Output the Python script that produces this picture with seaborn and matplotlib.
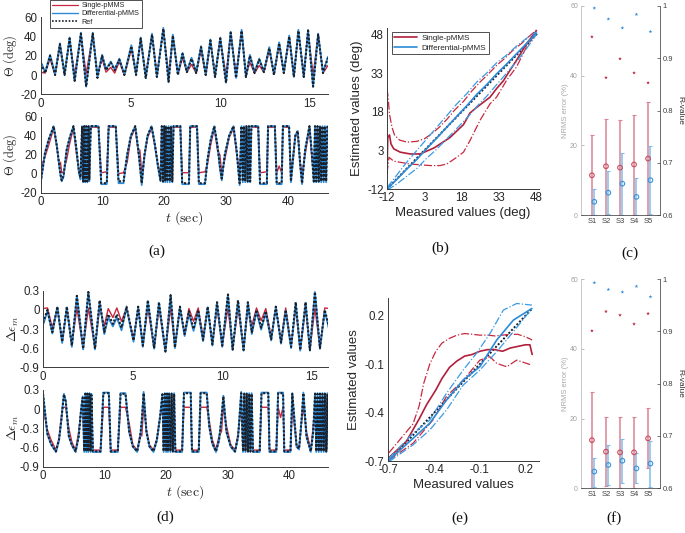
import numpy as np
import matplotlib
matplotlib.use('Agg')
import matplotlib.pyplot as plt
import seaborn as sns
from matplotlib.lines import Line2D

sns.set_theme(style='white')
plt.rcParams['font.family'] = ['Liberation Sans', 'DejaVu Sans']
plt.rcParams['mathtext.fontset'] = 'cm'
plt.rcParams['axes.unicode_minus'] = False

# ---------------- data: panel (a)/(d) upper (0-16 s) ----------------
t_top = [0.00, 0.25, 0.52, 0.80, 1.07, 1.33, 1.61, 1.89, 2.24, 2.53, 2.90, 3.16, 3.42, 3.64, 3.90,
         4.12, 4.38, 4.66, 5.05, 5.31, 5.57, 5.85, 6.20, 6.47, 6.83, 7.12, 7.36, 7.64, 7.90, 8.14,
         8.40, 8.66, 8.93, 9.19, 9.45, 9.71, 10.00, 10.32, 10.58, 10.88, 11.19, 11.43, 11.65, 11.91,
         12.17, 12.43, 12.73, 12.99, 13.28, 13.54, 13.84, 14.10, 14.35, 14.65, 14.89, 15.17, 15.45,
         15.72, 16.00]
theta_ref_top = [12, 2, 20, 0, 32, 0, 38, -6, 43, -12, 43, -3, 20, 5, 13, 5, 16, 0, 30, 0, 38, -3,
                 42, -2, 48, -7, 41, 0, 22, 3, 17, 2, 29, 0, 36, -2, 38, -8, 44, -3, 46, -2, 20, 2,
                 16, 3, 28, 0, 33, 2, 40, -2, 46, -2, 46, -12, 42, 2, 18]
theta_diff_top = [14, 3, 21, 1, 33, 1, 39, -6, 44, -12, 44, -2, 21, 6, 14, 6, 17, 1, 31, 1, 39, -3,
                  43, -2, 49, -7, 42, 1, 23, 4, 18, 3, 30, 1, 37, -2, 39, -8, 45, -3, 47, -2, 21, 3,
                  17, 4, 29, 1, 34, 3, 41, -2, 47, -2, 47, -12, 43, 3, 19]
theta_single_top = [3, 2, 17, 0, 30, 1, 37, 0, 42, 1, 42, 0, 17, 3, 8, 2, 14, 0, 27, 1, 37, 0, 42, 0,
                    47, 1, 40, 1, 18, 3, 11, 2, 26, 0, 34, 1, 37, 0, 43, 1, 45, 0, 13, 2, 10, 3, 26,
                    1, 31, 2, 39, 0, 45, 1, 45, 0, 41, 2, 10]
eps_ref_top = [-0.20, 0.00, -0.35, 0.05, -0.50, 0.05, -0.56, 0.22, -0.61, 0.28, -0.61, 0.15, -0.35,
               -0.07, -0.22, -0.07, -0.28, 0.05, -0.48, 0.05, -0.56, 0.15, -0.60, 0.12, -0.65, 0.23,
               -0.59, 0.05, -0.38, -0.02, -0.30, 0.00, -0.47, 0.05, -0.54, 0.12, -0.56, 0.24, -0.62,
               0.15, -0.63, 0.12, -0.35, 0.00, -0.28, -0.02, -0.46, 0.05, -0.51, 0.00, -0.58, 0.12,
               -0.63, 0.12, -0.63, 0.28, -0.60, 0.00, -0.32]
eps_diff_top = [-0.24, -0.02, -0.37, 0.04, -0.52, 0.04, -0.58, 0.22, -0.62, 0.28, -0.62, 0.13, -0.38,
                -0.12, -0.26, -0.12, -0.32, 0.03, -0.50, 0.04, -0.58, 0.14, -0.61, 0.11, -0.66, 0.23,
                -0.60, 0.04, -0.41, -0.06, -0.33, -0.03, -0.49, 0.04, -0.56, 0.11, -0.58, 0.24, -0.63,
                0.14, -0.64, 0.11, -0.38, -0.03, -0.31, -0.05, -0.48, 0.04, -0.53, -0.02, -0.60, 0.11,
                -0.64, 0.11, -0.64, 0.28, -0.61, -0.02, -0.35]
eps_single_top = [0.02, 0.03, -0.28, 0.03, -0.48, 0.03, -0.55, 0.03, -0.60, 0.03, -0.60, 0.03, -0.25,
                  0.02, -0.12, 0.03, -0.18, 0.03, -0.45, 0.03, -0.55, 0.03, -0.60, 0.03, -0.64, 0.03,
                  -0.58, 0.03, -0.38, 0.02, -0.18, 0.03, -0.43, 0.03, -0.52, 0.03, -0.55, 0.03, -0.61,
                  0.03, -0.62, 0.03, -0.25, 0.03, -0.17, 0.02, -0.43, 0.03, -0.49, 0.03, -0.57, 0.03,
                  -0.62, 0.03, -0.62, 0.03, -0.59, 0.03, 0.02]

# ---------------- data: panel (a)/(d) lower (0-46 s) ----------------
t_bot = [0.0, 0.7, 1.3, 2.1, 2.6, 3.0, 3.2, 3.4,
         3.7, 4.2, 4.7, 5.3, 5.8, 6.2, 6.45,
         6.7, 6.87, 7.04, 7.2, 7.37, 7.55, 7.74, 7.87,
         8.1, 9.35, 9.8, 10.7, 11.0, 12.15, 12.6, 13.4,
         14.0, 14.6, 15.3, 15.8, 16.05, 16.35,
         16.8, 17.3, 17.95, 18.5, 19.0, 19.4,
         19.6, 19.8, 20.0, 20.15, 20.3, 20.5, 20.7, 20.9, 21.1, 21.3,
         21.5, 22.6, 22.9, 24.0, 24.2, 25.3, 25.6, 26.6,
         27.0, 27.5, 28.1, 28.6, 29.0, 29.3,
         29.8, 30.5, 31.2, 31.7, 32.2,
         32.5, 32.7, 32.9, 33.1, 33.3, 33.5, 33.7, 33.9,
         34.1, 35.2, 35.5, 36.6, 36.8, 37.9, 38.2, 38.6, 39.0, 39.2, 40.2, 40.5,
         41.2, 41.6, 42.0, 42.3, 42.8, 43.5, 43.9, 44.2,
         44.4, 44.6, 44.8, 45.0, 45.2, 45.4, 45.6, 45.8, 46.0, 46.2, 46.4]
theta_ref_bot = [-9, 22, 36, 50, 30, 9, 0, -7,
                 -2, 25, 38, 50, 25, 2, -4,
                 50, -8, 50, -8, 50, -8, 50, -6,
                 50, 50, -10, -10, 50, 50, -8, -8,
                 20, 40, 50, 25, 10, -10,
                 20, 40, 50, 30, 8, -7,
                 50, -8, 50, -8, 50, -8, 50, -8, 50, -8,
                 50, 50, -10, -10, 50, 50, -10, -10,
                 15, 35, 50, 30, 8, -5,
                 20, 40, 50, 25, -10,
                 50, -8, 50, -8, 50, -8, 50, -8,
                 50, 50, -10, -10, 50, 50, -10, -10, -10, 50, 50, -8,
                 40, 45, 10, -10, 25, 50, 20, -8,
                 50, -8, 50, -8, 50, -8, 50, -8, 50, -8, 50]
theta_diff_bot = [-10, 22, 36, 50, 30, 8, -2, -8,
                  -3, 25, 38, 50, 25, 0, -6,
                  50, -9, 50, -9, 50, -9, 50, -8,
                  50, 50, -11, -11, 50, 50, -10, -10,
                  20, 40, 50, 25, 8, -12,
                  20, 40, 50, 30, 6, -8,
                  50, -9, 50, -9, 50, -9, 50, -9, 50, -9,
                  50, 50, -11, -11, 50, 50, -11, -11,
                  15, 35, 50, 30, 6, -7,
                  20, 40, 50, 25, -12,
                  50, -9, 50, -9, 50, -9, 50, -9,
                  50, 50, -11, -11, 50, 50, -11, -11, -11, 50, 50, -9,
                  40, 45, 8, -11, 25, 50, 20, -9,
                  50, -9, 50, -9, 50, -9, 50, -9, 50, -9, 50]
theta_single_bot = [5, 18, 30, 48, 28, 10, 12, 1,
                    2, 15, 32, 48, 20, 3, 1,
                    49, 1, 49, 1, 49, 1, 49, 2,
                    49, 49, 1, 2, 49, 49, 0, 1,
                    12, 38, 48, 22, 25, 1,
                    18, 38, 48, 28, 8, 1,
                    48, 1, 48, 1, 48, 1, 48, 1, 48, 1,
                    49, 49, 1, 1, 49, 49, 1, 2,
                    10, 30, 48, 25, 20, 1,
                    15, 38, 48, 22, 1,
                    48, 1, 48, 1, 48, 1, 48, 1,
                    49, 49, 1, 2, 49, 49, 1, 8, 1, 49, 49, 1,
                    38, 44, 12, 1, 20, 48, 15, 1,
                    48, 1, 48, 1, 48, 1, 48, 1, 48, 1, 49]
eps_ref_bot = [0.24, -0.38, -0.54, -0.66, -0.48, -0.15, 0.05, 0.23,
               0.12, -0.42, -0.56, -0.66, -0.42, 0.00, 0.18,
               -0.66, 0.24, -0.66, 0.24, -0.66, 0.24, -0.66, 0.22,
               -0.66, -0.66, 0.25, 0.25, -0.66, -0.66, 0.24, 0.24,
               -0.35, -0.58, -0.66, -0.42, -0.17, 0.25,
               -0.35, -0.58, -0.66, -0.48, -0.13, 0.23,
               -0.66, 0.24, -0.66, 0.24, -0.66, 0.24, -0.66, 0.24, -0.66, 0.24,
               -0.66, -0.66, 0.25, 0.25, -0.66, -0.66, 0.25, 0.25,
               -0.26, -0.53, -0.66, -0.48, -0.13, 0.20,
               -0.35, -0.58, -0.66, -0.42, 0.25,
               -0.66, 0.24, -0.66, 0.24, -0.66, 0.24, -0.66, 0.24,
               -0.66, -0.66, 0.25, 0.25, -0.66, -0.66, 0.25, 0.25, 0.25, -0.66, -0.66, 0.24,
               -0.58, -0.62, -0.17, 0.25, -0.42, -0.66, -0.35, 0.24,
               -0.66, 0.24, -0.66, 0.24, -0.66, 0.24, -0.66, 0.24, -0.66, 0.24, -0.66]
eps_diff_bot = [0.25, -0.39, -0.55, -0.67, -0.49, -0.16, 0.06, 0.24,
                0.13, -0.43, -0.57, -0.67, -0.43, 0.01, 0.20,
                -0.67, 0.25, -0.67, 0.25, -0.67, 0.25, -0.67, 0.24,
                -0.67, -0.67, 0.26, 0.26, -0.67, -0.67, 0.25, 0.25,
                -0.36, -0.59, -0.67, -0.43, -0.18, 0.27,
                -0.36, -0.59, -0.67, -0.49, -0.14, 0.24,
                -0.67, 0.25, -0.67, 0.25, -0.67, 0.25, -0.67, 0.25, -0.67, 0.25,
                -0.67, -0.67, 0.26, 0.26, -0.67, -0.67, 0.26, 0.26,
                -0.27, -0.54, -0.67, -0.49, -0.14, 0.21,
                -0.36, -0.59, -0.67, -0.43, 0.27,
                -0.67, 0.25, -0.67, 0.25, -0.67, 0.25, -0.67, 0.25,
                -0.67, -0.67, 0.26, 0.26, -0.67, -0.67, 0.26, 0.26, 0.26, -0.67, -0.67, 0.25,
                -0.59, -0.63, -0.18, 0.26, -0.43, -0.67, -0.36, 0.25,
                -0.67, 0.25, -0.67, 0.25, -0.67, 0.25, -0.67, 0.25, -0.67, 0.25, -0.67]
eps_single_bot = [0.03, -0.32, -0.48, -0.64, -0.45, -0.10, 0.02, 0.03,
                  0.03, -0.30, -0.52, -0.64, -0.35, 0.00, 0.03,
                  -0.64, 0.03, -0.64, 0.03, -0.64, 0.03, -0.64, 0.03,
                  -0.64, -0.64, 0.03, 0.03, -0.64, -0.64, 0.03, 0.03,
                  -0.22, -0.56, -0.64, -0.38, -0.42, 0.03,
                  -0.32, -0.56, -0.64, -0.46, -0.13, 0.03,
                  -0.64, 0.03, -0.64, 0.03, -0.64, 0.03, -0.64, 0.03, -0.64, 0.03,
                  -0.64, -0.64, 0.03, 0.03, -0.64, -0.64, 0.03, 0.03,
                  -0.17, -0.48, -0.64, -0.42, -0.35, 0.03,
                  -0.26, -0.56, -0.64, -0.38, 0.03,
                  -0.64, 0.03, -0.64, 0.03, -0.64, 0.03, -0.64, 0.03,
                  -0.64, -0.64, 0.03, 0.03, -0.64, -0.64, 0.03, -0.13, 0.03, -0.64, -0.64, 0.03,
                  -0.56, -0.61, -0.20, 0.03, -0.35, -0.64, -0.26, 0.03,
                  -0.64, 0.03, -0.64, 0.03, -0.64, 0.03, -0.64, 0.03, -0.64, 0.03, -0.65]

# ---------------- data: panel (b) ----------------
b_single_mean_x = [-12, -11.7, -11.0, -10.4, -9.3, -6.7, -2.7, 1.3, 7, 13.3, 18.7, 21.3, 24, 26.7,
                   29.3, 32, 34.7, 37.3, 40, 44, 48]
b_single_mean_y = [-6, 8, 9, 5.5, 3.6, 2.3, 1.6, 1.6, 4, 8, 13, 17.5, 19.7, 21.7, 23.6, 27, 30, 34,
                   38, 44.4, 49.5]
b_single_hi_x = [-12, -11.6, -11, -10, -9, -7, -4, 0, 3, 6, 9, 12, 15, 18.7, 22, 25.3, 28, 32, 35,
                 38.7, 42, 45.3, 48]
b_single_hi_y = [27, 24, 17, 12, 9, 7, 6.2, 6.5, 7.5, 9.5, 12, 15, 18.5, 22, 26, 29.5, 32, 36, 38.5,
                 42, 44.5, 47.5, 49.7]
b_single_lo_x = [-12, -11.2, -9.3, -2.7, 5.3, 9.3, 12, 16, 18.7, 21.3, 25.3, 29.3, 32, 36, 40, 44, 48]
b_single_lo_y = [-6, 0.3, -1.2, -2.3, -2.9, -2.9, -2.3, 0.3, 2.3, 6.8, 14.6, 21, 23.7, 30.2, 35.4,
                 43.2, 49]
b_diff_x = [-12, -8, -4, 0, 4, 8, 12, 16, 20, 24, 28, 32, 36, 40, 44, 48]
b_diff_mean_y = [-12, -8.2, -4.2, -0.5, 3.8, 7.8, 12, 16.2, 20.3, 24.7, 28.5, 32.7, 36.5, 40.5, 44.5, 48.5]
b_diff_hi_y = [-11.5, -6.5, -1.5, 3, 7.5, 12, 16.5, 21, 25, 29.5, 33, 37, 40, 43.5, 46.5, 49]
b_diff_lo_y = [-12.5, -10, -7, -4, 0, 3.5, 7.5, 11.5, 15.5, 20, 24, 28.5, 33, 37.5, 42.5, 48]
b_ident = [-12, 48.5]

# ---------------- data: panel (e) ----------------
e_single_mean_x = [-0.70, -0.585, -0.50, -0.45, -0.39, -0.35, -0.30, -0.25, -0.20, -0.15, -0.10,
                   -0.05, 0.0, 0.05, 0.10, 0.15, 0.20, 0.23, 0.245]
e_single_mean_y = [-0.68, -0.58, -0.44, -0.35, -0.26, -0.19, -0.12, -0.08, -0.05, -0.04, -0.02,
                   -0.01, -0.01, -0.02, 0.0, 0.01, 0.02, 0.02, -0.04]
e_single_hi_x = [-0.70, -0.62, -0.54, -0.50, -0.47, -0.43, -0.39, -0.35, -0.30, -0.25, -0.20, -0.15,
                 -0.10, -0.05, 0.0, 0.05, 0.10, 0.15, 0.20, 0.245]
e_single_hi_y = [-0.65, -0.56, -0.47, -0.36, -0.22, -0.10, -0.02, 0.03, 0.06, 0.08, 0.09, 0.085,
                 0.08, 0.08, 0.075, 0.08, 0.085, 0.085, 0.07, 0.05]
e_single_lo_x = [-0.70, -0.54, -0.41, -0.32, -0.21, -0.10, -0.033, 0.011, 0.077, 0.143, 0.243]
e_single_lo_y = [-0.695, -0.59, -0.447, -0.30, -0.20, -0.075, -0.054, -0.095, -0.116, -0.075, -0.106]
e_diff_x = [-0.70, -0.54, -0.431, -0.32, -0.21, -0.10, 0.011, 0.121, 0.243]
e_diff_mean_y = [-0.695, -0.56, -0.467, -0.323, -0.199, -0.116, 0.049, 0.173, 0.245]
e_diff_hi_x = [-0.70, -0.54, -0.431, -0.32, -0.21, -0.122, -0.033, 0.055, 0.143, 0.243]
e_diff_hi_y = [-0.684, -0.529, -0.447, -0.281, -0.137, -0.033, 0.09, 0.235, 0.276, 0.266]
e_diff_lo_y = [-0.705, -0.60, -0.509, -0.385, -0.23, -0.137, -0.023, 0.101, 0.245]
e_ident = [-0.7, 0.245]

# ---------------- data: panels (c) and (f) ----------------
subjects = ['S1', 'S2', 'S3', 'S4', 'S5']
c_nrms_single = [11.4, 14.0, 13.6, 14.5, 16.2]
c_nrms_single_lo = [0.0, 0.0, 0.0, 0.0, 0.0]
c_nrms_single_hi = [22.9, 27.6, 27.3, 28.8, 32.4]
c_nrms_diff = [3.8, 6.4, 9.0, 5.2, 10.0]
c_nrms_diff_lo = [0.0, 0.2, 0.0, 0.0, 0.3]
c_nrms_diff_hi = [7.6, 12.6, 17.9, 10.5, 19.7]
c_r_single = [0.941, 0.863, 0.899, 0.872, 0.853]
c_r_diff = [0.996, 0.975, 0.958, 0.984, 0.951]

f_nrms_single = [13.8, 10.5, 10.3, 10.3, 14.3]
f_nrms_single_lo = [0.0, 0.7, 0.0, 0.0, 5.7]
f_nrms_single_hi = [27.6, 20.3, 20.5, 20.5, 23.0]
f_nrms_diff = [4.8, 6.7, 7.9, 5.7, 7.1]
f_nrms_diff_lo = [0.5, 1.0, 1.4, 1.4, 0.5]
f_nrms_diff_hi = [8.8, 12.4, 14.0, 10.2, 13.6]
f_r_single = [0.901, 0.938, 0.931, 0.914, 0.934]
f_r_diff = [0.993, 0.980, 0.975, 0.986, 0.966]

# ---------------- styling ----------------
RED = '#C8283F'
RED_D = '#B11F3A'
BLUE = '#2D8AD6'
REF = '#17202B'
DARK = '#262626'
W, H = 685.0, 533.0

fig = plt.figure(figsize=(6.85, 5.33), dpi=100)
fig.patch.set_facecolor('white')


def axes_px(left, top, right, bottom):
    return fig.add_axes([left / W, 1 - bottom / H, (right - left) / W, (bottom - top) / H])


def style(ax, size=8.3):
    sns.despine(ax=ax)
    ax.tick_params(direction='in', length=2.5, width=0.6, labelsize=size, colors=DARK, pad=2.5)
    for s in ['left', 'bottom']:
        ax.spines[s].set_color('#3a3a3a')
        ax.spines[s].set_linewidth(0.7)
    ax.set_facecolor('white')


def ts(ax, t, ref, diff, single, xlim, ylim, yticks, ylabels, xticks):
    sns.lineplot(x=t, y=single, ax=ax, color=RED, lw=1.0, sort=False, estimator=None)
    sns.lineplot(x=t, y=diff, ax=ax, color=BLUE, lw=1.3, sort=False, estimator=None)
    sns.lineplot(x=t, y=ref, ax=ax, color=REF, lw=1.5, ls=(0, (1, 0.9)), sort=False, estimator=None)
    ax.set_xlim(*xlim)
    ax.set_ylim(*ylim)
    ax.set_yticks(yticks)
    ax.set_yticklabels(ylabels)
    ax.set_xticks(xticks)
    ax.set_xticklabels([str(v) for v in xticks])
    style(ax)


theta_lab = r'$\Theta\ \mathrm{(deg)}$'
eps_lab = r'$\Delta\epsilon_m$'
t_lab = r'$t\ \mathrm{(sec)}$'

# (a) upper
ax = axes_px(40.7, 17.3, 328, 94.3)
ts(ax, t_top, theta_ref_top, theta_diff_top, theta_single_top, (0, 16), (-20, 60),
   [-20, 0, 20, 40, 60], ['-20', '0', '20', '40', '60'], [0, 5, 10, 15])
ax.set_ylabel(theta_lab, fontsize=9, color=DARK, va='center')
ax.yaxis.set_label_coords(-0.108, 0.5)
ax.set_xlabel('')
# (a) lower
ax = axes_px(40.7, 116.7, 328, 192.7)
ts(ax, t_bot, theta_ref_bot, theta_diff_bot, theta_single_bot, (0, 46.5), (-20, 60),
   [-20, 0, 20, 40, 60], ['-20', '0', '20', '40', '60'], [0, 10, 20, 30, 40])
ax.set_ylabel(theta_lab, fontsize=9, color=DARK, va='center')
ax.yaxis.set_label_coords(-0.108, 0.5)
ax.set_xlabel(t_lab, fontsize=10, color=DARK, labelpad=1)

# (d) upper
ax = axes_px(43, 290.7, 328, 367.3)
ts(ax, t_top, eps_ref_top, eps_diff_top, eps_single_top, (0, 15.9), (-0.9, 0.3),
   [-0.9, -0.6, -0.3, 0, 0.3], ['-0.9', '-0.6', '-0.3', '0', '0.3'], [0, 5, 10, 15])
ax.set_ylabel(eps_lab, fontsize=9.5, color=DARK, va='center')
ax.yaxis.set_label_coords(-0.105, 0.5)
ax.set_xlabel('')
# (d) lower
ax = axes_px(43, 390, 328, 466.7)
ts(ax, t_bot, eps_ref_bot, eps_diff_bot, eps_single_bot, (0, 46.3), (-0.9, 0.3),
   [-0.9, -0.6, -0.3, 0, 0.3], ['-0.9', '-0.6', '-0.3', '0', '0.3'], [0, 10, 20, 30, 40])
ax.set_ylabel(eps_lab, fontsize=9.5, color=DARK, va='center')
ax.yaxis.set_label_coords(-0.105, 0.5)
ax.set_xlabel(t_lab, fontsize=10, color=DARK, labelpad=1)

# legend for (a)
h_a = [Line2D([], [], color=RED, lw=0.9), Line2D([], [], color=BLUE, lw=1.0),
       Line2D([], [], color=REF, lw=1.2, ls=(0, (1, 1)))]
leg = fig.legend(h_a, ['Single-pMMS', 'Differential-pMMS', 'Ref'], loc='upper left',
                 bbox_to_anchor=(50 / W, 1.0), fontsize=5.2, frameon=True, fancybox=False,
                 edgecolor='#333333', framealpha=1, handlelength=3.6, borderpad=0.3,
                 labelspacing=0.15, handletextpad=0.5, borderaxespad=0)
leg.get_frame().set_linewidth(0.6)


def scatter_panel(ax, sm_x, sm_y, sh_x, sh_y, sl_x, sl_y, d_x, dm_y, dh_x, dh_y, dl_x, dl_y, ident):
    sns.lineplot(x=ident, y=ident, ax=ax, color=REF, lw=1.4, ls=(0, (1, 1)), sort=False, estimator=None)
    sns.lineplot(x=sh_x, y=sh_y, ax=ax, color=RED, lw=0.9, ls='-.', sort=False, estimator=None)
    sns.lineplot(x=sl_x, y=sl_y, ax=ax, color=RED, lw=0.9, ls='-.', sort=False, estimator=None)
    sns.lineplot(x=sm_x, y=sm_y, ax=ax, color=RED_D, lw=1.2, sort=False, estimator=None)
    sns.lineplot(x=dh_x, y=dh_y, ax=ax, color='#3A9BE3', lw=0.9, ls='-.', sort=False, estimator=None)
    sns.lineplot(x=dl_x, y=dl_y, ax=ax, color='#3A9BE3', lw=0.9, ls='-.', sort=False, estimator=None)
    sns.lineplot(x=d_x, y=dm_y, ax=ax, color=BLUE, lw=1.2, sort=False, estimator=None)


# (b)
ax = axes_px(387, 28, 539, 189)
scatter_panel(ax, b_single_mean_x, b_single_mean_y, b_single_hi_x, b_single_hi_y,
              b_single_lo_x, b_single_lo_y, b_diff_x, b_diff_mean_y, b_diff_x, b_diff_hi_y,
              b_diff_x, b_diff_lo_y, b_ident)
ax.set_xlim(-12, 49)
ax.set_ylim(-12, 50.5)
ax.set_xticks([-12, 3, 18, 33, 48])
ax.set_yticks([-12, 3, 18, 33, 48])
ax.set_xticklabels(['-12', '3', '18', '33', '48'])
ax.set_yticklabels(['-12', '3', '18', '33', '48'])
style(ax)
ax.set_xlabel('Measured values (deg)', fontsize=9.5, color=DARK, labelpad=2)
ax.set_ylabel('Estimated values (deg)', fontsize=9.5, color=DARK, labelpad=3)
h_b = [Line2D([], [], color=RED_D, lw=1.2), Line2D([], [], color=BLUE, lw=1.2)]
leg = ax.legend(h_b, ['Single-pMMS', 'Differential-pMMS'], loc='upper left',
                bbox_to_anchor=((392 - 387) / 152, (189 - 32) / 161), fontsize=5.9, frameon=True,
                fancybox=False, edgecolor='#333333', framealpha=1, handlelength=2.8,
                borderpad=0.3, labelspacing=0.2, handletextpad=0.5, borderaxespad=0)
leg.get_frame().set_linewidth(0.6)

# (e)
ax = axes_px(388, 298, 539, 461)
scatter_panel(ax, e_single_mean_x, e_single_mean_y, e_single_hi_x, e_single_hi_y,
              e_single_lo_x, e_single_lo_y, e_diff_x, e_diff_mean_y, e_diff_hi_x, e_diff_hi_y,
              e_diff_x, e_diff_lo_y, e_ident)
ax.set_xlim(-0.705, 0.29)
ax.set_ylim(-0.7, 0.31)
ax.set_xticks([-0.7, -0.4, -0.1, 0.2])
ax.set_yticks([-0.7, -0.4, -0.1, 0.2])
ax.set_xticklabels(['-0.7', '-0.4', '-0.1', '0.2'])
ax.set_yticklabels(['-0.7', '-0.4', '-0.1', '0.2'])
style(ax)
ax.set_xlabel('Measured values', fontsize=9.5, color=DARK, labelpad=2)
ax.set_ylabel('Estimated values', fontsize=9.5, color=DARK, labelpad=3)


def bar_panel(ax, ms, ms_lo, ms_hi, md, md_lo, md_hi, rs, rd):
    xs = np.arange(1, len(subjects) + 1)
    ms, ms_lo, ms_hi = np.array(ms), np.array(ms_lo), np.array(ms_hi)
    md, md_lo, md_hi = np.array(md), np.array(md_lo), np.array(md_hi)
    ax.errorbar(xs, ms, yerr=[ms - ms_lo, ms_hi - ms], fmt='none', ecolor='#DA8494',
                elinewidth=1.1, capsize=1.6, capthick=0.8, zorder=2)
    ax.errorbar(xs + 0.17, md, yerr=[md - md_lo, md_hi - md], fmt='none', ecolor='#7EBDEA',
                elinewidth=1.1, capsize=1.6, capthick=0.8, zorder=2)
    sns.scatterplot(x=xs, y=ms, ax=ax, marker='o', s=11, facecolor='none', edgecolor='#C94A5E',
                    linewidth=0.8, zorder=3)
    sns.scatterplot(x=xs + 0.17, y=md, ax=ax, marker='o', s=11, facecolor='none', edgecolor='#3A93D8',
                    linewidth=0.8, zorder=3)
    ax.set_xlim(0.2, 5.85)
    ax.set_ylim(0, 60)
    ax.set_yticks([0, 20, 40, 60])
    ax.set_yticklabels(['0', '20', '40', '60'])
    ax.set_xticks(xs)
    ax.set_xticklabels(subjects)
    ax.tick_params(axis='y', direction='in', length=2, width=0.5, labelsize=5, colors='#A0A0A0', pad=2)
    ax.tick_params(axis='x', direction='in', length=2, width=0.5, labelsize=5.5, colors='#404040', pad=2)
    ax.set_ylabel('NRMS error (%)', fontsize=5.5, color='#A8A8A8', labelpad=1)
    ax.spines['top'].set_visible(False)
    ax.spines['right'].set_visible(False)
    ax.spines['left'].set_color('#C8C8C8')
    ax.spines['left'].set_linewidth(0.7)
    ax.spines['bottom'].set_color('#505050')
    ax.spines['bottom'].set_linewidth(0.6)
    ax2 = ax.twinx()
    sns.scatterplot(x=xs, y=rs, ax=ax2, marker='*', s=8, color='#B8223C', edgecolor='none', zorder=3)
    sns.scatterplot(x=xs + 0.17, y=rd, ax=ax2, marker='*', s=8, color='#2E8AD6', edgecolor='none', zorder=3)
    ax2.set_ylim(0.6, 1.0)
    ax2.set_yticks([0.6, 0.7, 0.8, 0.9, 1.0])
    ax2.set_yticklabels(['0.6', '0.7', '0.8', '0.9', '1'])
    ax2.tick_params(axis='y', direction='in', length=2, width=0.5, labelsize=5.5, colors='#404040', pad=2)
    ax2.set_ylabel('R-value', fontsize=6, color='#303030', rotation=270, labelpad=7)
    for s in ['top', 'left', 'bottom']:
        ax2.spines[s].set_visible(False)
    ax2.spines['right'].set_color('#505050')
    ax2.spines['right'].set_linewidth(0.6)
    ax2.grid(False)
    ax.grid(False)


ax = axes_px(580.7, 6, 660, 215)
bar_panel(ax, c_nrms_single, c_nrms_single_lo, c_nrms_single_hi, c_nrms_diff, c_nrms_diff_lo,
          c_nrms_diff_hi, c_r_single, c_r_diff)
ax = axes_px(580.7, 279, 660, 488.3)
bar_panel(ax, f_nrms_single, f_nrms_single_lo, f_nrms_single_hi, f_nrms_diff, f_nrms_diff_lo,
          f_nrms_diff_hi, f_r_single, f_r_diff)

# panel letters
for lab, (px, py) in {'(a)': (157, 251), '(b)': (440, 248), '(c)': (630, 253),
                      '(d)': (165, 517), '(e)': (460, 518), '(f)': (614, 518)}.items():
    fig.text(px / W, 1 - py / H, lab, ha='center', va='center', family='Liberation Serif',
             fontsize=11, color='#111111')

fig.savefig('out.png', dpi=100, facecolor='white')
